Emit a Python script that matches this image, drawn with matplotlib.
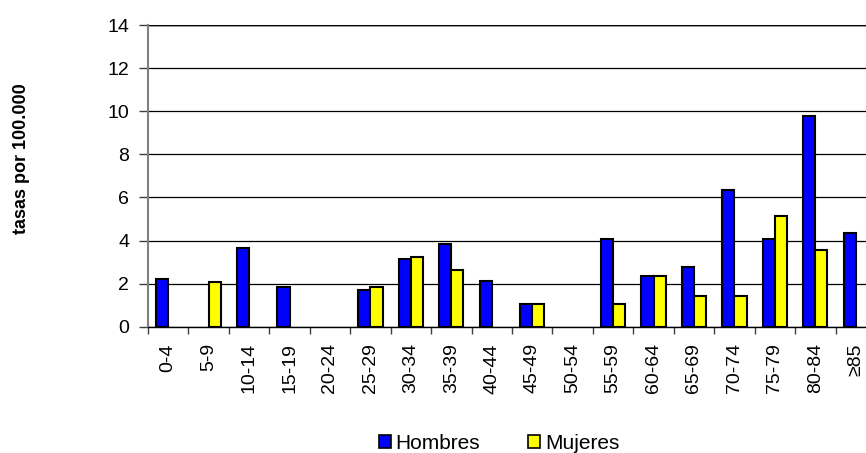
import numpy as np
import matplotlib.pyplot as plt
from matplotlib.patches import Patch

plt.rcParams['font.family'] = ['Liberation Sans', 'DejaVu Sans']

# grupos de edad y tasas por 100.000
grupos = ["0-4", "5-9", "10-14", "15-19", "20-24", "25-29", "30-34", "35-39", "40-44",
          "45-49", "50-54", "55-59", "60-64", "65-69", "70-74", "75-79", "80-84", "≥85"]
hombres = [2.21, 0, 3.67, 1.83, 0, 1.70, 3.16, 3.82, 2.10,
           1.04, 0, 4.07, 2.35, 2.76, 6.33, 4.08, 9.78, 4.35]
mujeres = [0, 2.09, 0, 0, 0, 1.83, 3.25, 2.63, 0,
           1.04, 0, 1.04, 2.35, 1.44, 1.44, 5.14, 3.56, 0]

fig = plt.figure(figsize=(8.66, 4.53), dpi=100)
# el area del grafico se sale por la derecha, como en el original
ax = fig.add_axes([0.1709, 0.2788, 0.8406, 0.666])

x = np.arange(len(grupos))
ancho = 0.3
# sin borde en las barras de valor cero
bordes_h = ['black' if v > 0 else 'none' for v in hombres]
bordes_m = ['black' if v > 0 else 'none' for v in mujeres]
ax.bar(x - ancho / 2, hombres, ancho, color='#0000FF', edgecolor=bordes_h, linewidth=1.5, zorder=3)
ax.bar(x + ancho / 2, mujeres, ancho, color='#FFFF00', edgecolor=bordes_m, linewidth=1.5, zorder=3)

ax.set_xlim(-0.5, len(grupos) - 0.5)
ax.set_ylim(0, 14)
ax.set_yticks(range(0, 15, 2))
ax.tick_params(axis='y', labelsize=14, length=6.5, width=1, color='#404040', pad=7)
ax.yaxis.grid(True, color='black', linewidth=0.9, zorder=0)

ax.set_xticks(x)
ax.set_xticklabels(grupos, rotation=90, fontsize=14)
ax.set_xticks(np.arange(-0.5, len(grupos), 1), minor=True)
ax.tick_params(axis='x', which='major', length=0, pad=12)
ax.tick_params(axis='x', which='minor', length=5, width=1, color='#404040')

for lado in ['right', 'top']:
    ax.spines[lado].set_visible(False)
ax.spines['left'].set_color('#808080')
ax.spines['left'].set_linewidth(1.5)
ax.spines['bottom'].set_color('black')
ax.spines['bottom'].set_linewidth(1)
ax.axhline(14, color='#999999', linewidth=1.8, zorder=1)

fig.text(0.025, 0.649, "tasas por 100.000", rotation=90, fontsize=13,
         fontweight='bold', ha='center', va='center')

handles = [Patch(facecolor='#0000FF', edgecolor='black', linewidth=1.2, label='Hombres'),
           Patch(facecolor='#FFFF00', edgecolor='black', linewidth=1.2, label='Mujeres')]
fig.legend(handles=handles, loc='center left', bbox_to_anchor=(0.4377, 0.0214), ncol=2,
           frameon=False, fontsize=15, handlelength=0.55, handleheight=0.55, borderpad=0,
           borderaxespad=0, handletextpad=0.25, columnspacing=2.3)

fig.savefig("out.png", dpi=100)
